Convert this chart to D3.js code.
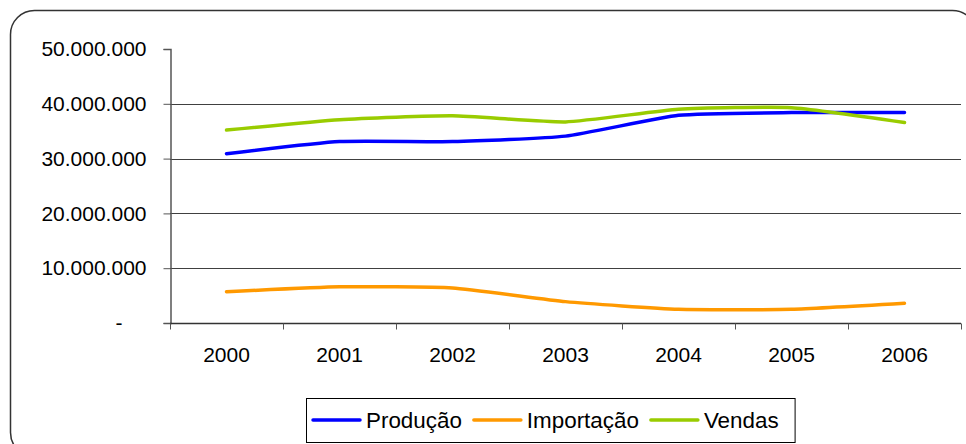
<!DOCTYPE html>
<html>
<head>
<meta charset="utf-8">
<script src="https://cdn.jsdelivr.net/npm/d3@7"></script>
<style>
  body { margin: 0; background: #fff; }
  svg { display: block; font-family: "Liberation Sans", Arial, sans-serif; }
</style>
</head>
<body>
<svg class="chart" width="966" height="444"></svg>
<script>
// data
const years = ["2000", "2001", "2002", "2003", "2004", "2005", "2006"];
const producao   = [30.9e6, 33.1e6, 33.1e6, 34.1e6, 37.9e6, 38.4e6, 38.4e6];
const importacao = [5.7e6, 6.6e6, 6.4e6, 3.9e6, 2.5e6, 2.5e6, 3.6e6];
const vendas     = [35.2e6, 37.1e6, 37.8e6, 36.7e6, 39.0e6, 39.3e6, 36.6e6];
const seriesNames = ["Produção", "Importação", "Vendas"];
const yTicks = [0, 10e6, 20e6, 30e6, 40e6, 50e6];

const colors = ["#0000ff", "#ff9900", "#99cc00"];
const series = [producao, importacao, vendas];

const margin = {top: 49, left: 170, right: 5, bottom: 121};
const W = 966, H = 444;

const svg = d3.select(".chart");

// outer rounded frame
svg.append("rect")
  .attr("x", 10.5).attr("y", 10.5)
  .attr("width", 966).attr("height", 446)
  .attr("rx", 24).attr("ry", 24)
  .attr("fill", "none")
  .attr("stroke", "#333")
  .attr("stroke-width", 1.5);

var x = d3.scaleBand()
  .domain(years)
  .range([margin.left, W - margin.right]);

var y = d3.scaleLinear()
  .domain([0, 50e6])
  .range([H - margin.bottom, margin.top]);

const loc = d3.formatLocale({decimal: ",", thousands: ".", grouping: [3], currency: ["", ""]});
const fmt = loc.format(",");

// gridlines (not at top)
svg.append("g")
  .selectAll("line")
  .data(yTicks.filter(d => d > 0 && d < 50e6))
  .enter().append("line")
    .attr("x1", margin.left)
    .attr("x2", W - margin.right)
    .attr("y1", d => Math.round(y(d)) + 0.5)
    .attr("y2", d => Math.round(y(d)) + 0.5)
    .attr("stroke", "#404040")
    .attr("stroke-width", 1);

// y axis
const yAxis = svg.append("g")
  .attr("transform", "translate(" + (margin.left + 0.5) + ",0)")
  .call(d3.axisLeft(y).tickValues(yTicks).tickSize(7).tickPadding(17)
    .tickFormat(d => d === 0 ? "-" : fmt(d)));
yAxis.select(".domain").attr("stroke", "#555").attr("stroke-width", 1.5);
yAxis.selectAll(".tick line").attr("stroke", "#555");
yAxis.selectAll(".tick text")
  .attr("fill", "#000")
  .style("font-size", "21px")
  .attr("dx", d => d === 0 ? -24 : 0);

// x axis, ticks on band edges
const xAxisG = svg.append("g")
  .attr("transform", "translate(0," + (Math.round(y(0)) + 0.5) + ")");
xAxisG.append("line")
  .attr("x1", margin.left).attr("x2", W - margin.right)
  .attr("stroke", "#333").attr("stroke-width", 1.5);
const edges = years.map(d => x(d)).concat([x(years[years.length - 1]) + x.bandwidth()]);
xAxisG.selectAll(".edge")
  .data(edges)
  .enter().append("line")
    .attr("class", "edge")
    .attr("x1", d => Math.round(d) + 0.5).attr("x2", d => Math.round(d) + 0.5)
    .attr("y1", 0).attr("y2", 6)
    .attr("stroke", "#555");
xAxisG.selectAll(".lbl")
  .data(years)
  .enter().append("text")
    .attr("class", "lbl")
    .attr("x", d => x(d) + x.bandwidth() / 2)
    .attr("y", 38)
    .attr("text-anchor", "middle")
    .style("font-size", "21px")
    .text(d => d);

// lines
const line = d3.line()
  .x((d, i) => x(years[i]) + x.bandwidth() / 2)
  .y(d => y(d))
  .curve(d3.curveCardinal.tension(0.5));

svg.append("g")
  .selectAll("path")
  .data(series)
  .enter().append("path")
    .attr("d", d => line(d))
    .attr("fill", "none")
    .attr("stroke", (d, i) => colors[i])
    .attr("stroke-width", 3.5)
    .attr("stroke-linecap", "round");

// legend
const leg = svg.append("g");
const legBox = leg.append("rect")
  .attr("fill", "#fff").attr("stroke", "#000").attr("stroke-width", 1);
let lx = 313;
const ly = 420;
seriesNames.forEach((name, i) => {
  leg.append("line")
    .attr("x1", lx).attr("x2", lx + 47)
    .attr("y1", ly).attr("y2", ly)
    .attr("stroke", colors[i]).attr("stroke-width", 3.5)
    .attr("stroke-linecap", "round");
  const t = leg.append("text")
    .attr("x", lx + 53).attr("y", ly + 8)
    .style("font-size", "22.4px")
    .text(name);
  lx += 53 + t.node().getComputedTextLength() + 12;
});
legBox.attr("x", 306.5).attr("y", 398.5)
  .attr("width", lx - 12 + 16 - 306).attr("height", 44);
</script>
</body>
</html>
